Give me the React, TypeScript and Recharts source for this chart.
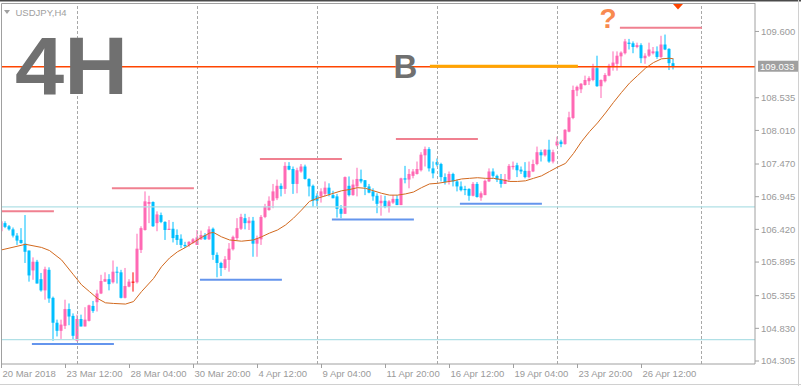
import React from 'react';
import { ComposedChart, Bar, Line, XAxis, YAxis, ReferenceLine } from 'recharts';

const opens = [
  106.39, 106.52, 106.47, 106.42, 106.32, 106.25, 106.19, 106.08, 105.76, 105.90,
  105.62, 105.44, 105.77, 105.32, 104.92, 104.79, 104.87, 105.14, 105.03, 104.63,
  104.98, 104.86, 104.95, 105.19, 105.25, 105.39, 105.58, 105.62, 105.57, 105.74,
  105.73, 105.32, 105.50, 105.58, 105.57, 106.09, 106.41, 106.83, 106.86, 106.52,
  106.65, 106.54, 106.41, 106.43, 106.33, 106.27, 106.17, 106.17, 106.20, 106.17,
  106.26, 106.33, 106.26, 106.43, 106.01, 105.88, 105.80, 105.93, 106.10, 106.28,
  106.43, 106.60, 106.52, 106.56, 106.19, 106.26, 106.62, 106.73, 106.88, 106.92,
  107.12, 107.07, 107.44, 107.39, 107.15, 107.35, 107.43, 107.23, 107.12, 106.96,
  106.95, 106.99, 107.09, 106.97, 106.95, 106.75, 106.67, 107.12, 106.97, 107.11,
  107.23, 107.21, 107.11, 107.03, 106.96, 106.84, 106.88, 106.78, 106.85, 106.91,
  106.81, 107.24, 107.22, 107.28, 107.31, 107.37, 107.61, 107.71, 107.40, 107.50,
  107.47, 107.26, 107.19, 107.31, 107.19, 107.11, 107.07, 107.07, 106.96, 107.15,
  106.93, 106.97, 107.19, 107.35, 107.28, 107.22, 107.15, 107.22, 107.42, 107.45,
  107.38, 107.36, 107.26, 107.35, 107.47, 107.66, 107.61, 107.70, 107.51, 107.77,
  107.83, 107.79, 107.99, 108.21, 108.65, 108.67, 108.74, 108.80, 108.82, 109.01,
  108.72, 108.80, 108.89, 109.04, 109.08, 109.20, 109.25, 109.42, 109.41, 109.35,
  109.38, 109.17, 109.21, 109.25, 109.28, 109.19, 109.39, 109.32, 109.09,
];
const highs = [
  106.57, 106.55, 106.49, 106.45, 106.36, 106.44, 106.65, 106.08, 105.97, 105.93,
  105.72, 105.82, 105.81, 105.34, 104.97, 104.97, 105.29, 105.23, 105.07, 105.05,
  105.05, 105.17, 105.21, 105.27, 105.45, 105.69, 105.73, 105.70, 105.92, 105.82,
  105.77, 105.80, 105.62, 105.73, 106.35, 106.47, 107.03, 106.96, 106.87, 106.71,
  106.69, 106.55, 106.57, 106.54, 106.42, 106.34, 106.22, 106.23, 106.28, 106.41,
  106.40, 106.36, 106.47, 106.45, 106.05, 105.90, 105.99, 106.20, 106.32, 106.60,
  106.67, 106.67, 106.62, 106.62, 106.32, 106.65, 106.83, 106.95, 107.15, 107.22,
  107.16, 107.50, 107.50, 107.43, 107.41, 107.47, 107.46, 107.24, 107.14, 107.00,
  107.08, 107.19, 107.16, 107.04, 106.99, 106.81, 107.27, 107.27, 107.22, 107.41,
  107.38, 107.21, 107.15, 107.08, 107.00, 106.97, 106.96, 106.89, 106.97, 106.97,
  107.25, 107.44, 107.39, 107.39, 107.51, 107.66, 107.75, 107.74, 107.51, 107.56,
  107.49, 107.32, 107.35, 107.33, 107.22, 107.19, 107.12, 107.08, 107.18, 107.18,
  107.03, 107.22, 107.40, 107.40, 107.30, 107.31, 107.31, 107.47, 107.51, 107.49,
  107.43, 107.50, 107.51, 107.54, 107.75, 107.70, 107.71, 107.86, 107.70, 107.91,
  107.86, 108.03, 108.31, 108.73, 108.73, 108.77, 108.89, 108.88, 109.08, 109.21,
  108.83, 108.93, 109.08, 109.28, 109.28, 109.28, 109.48, 109.48, 109.44, 109.42,
  109.41, 109.25, 109.42, 109.35, 109.36, 109.53, 109.55, 109.33, 109.16,
];
const lows = [
  106.37, 106.44, 106.40, 106.29, 106.17, 106.19, 105.88, 105.58, 105.61, 105.55,
  105.42, 105.29, 105.24, 104.63, 104.70, 104.66, 104.82, 104.88, 104.65, 104.62,
  104.86, 104.86, 104.94, 105.08, 105.10, 105.38, 105.58, 105.44, 105.55, 105.55,
  105.31, 105.31, 105.49, 105.42, 105.55, 106.04, 106.40, 106.52, 106.46, 106.39,
  106.52, 106.25, 106.41, 106.21, 106.17, 106.12, 106.12, 106.14, 106.19, 106.17,
  106.25, 106.25, 106.25, 105.93, 105.65, 105.67, 105.77, 105.74, 106.08, 106.25,
  106.41, 106.42, 106.41, 105.98, 105.98, 106.17, 106.60, 106.72, 106.76, 106.89,
  106.95, 106.99, 107.37, 106.99, 107.00, 107.33, 107.22, 106.95, 106.78, 106.79,
  106.85, 106.95, 106.95, 106.92, 106.61, 106.60, 106.67, 106.95, 106.96, 106.95,
  107.16, 106.97, 107.00, 106.88, 106.68, 106.64, 106.76, 106.69, 106.83, 106.81,
  106.81, 107.16, 107.08, 107.24, 107.30, 107.35, 107.43, 107.35, 107.24, 107.43,
  107.19, 107.14, 107.14, 107.11, 107.03, 107.03, 106.97, 106.88, 106.95, 106.93,
  106.88, 106.97, 107.18, 107.25, 107.18, 107.09, 107.15, 107.19, 107.38, 107.26,
  107.31, 107.24, 107.24, 107.34, 107.45, 107.51, 107.59, 107.49, 107.48, 107.75,
  107.74, 107.78, 107.98, 108.19, 108.56, 108.61, 108.73, 108.74, 108.80, 108.71,
  108.53, 108.78, 108.88, 108.97, 108.97, 109.04, 109.23, 109.31, 109.25, 109.33,
  109.09, 109.08, 109.19, 109.23, 109.16, 109.17, 109.30, 108.98, 108.99,
];
const closes = [
  106.55, 106.46, 106.42, 106.32, 106.24, 106.20, 106.06, 105.68, 105.90, 105.55,
  105.44, 105.78, 105.31, 104.92, 104.79, 104.89, 105.14, 105.02, 104.71, 104.98,
  104.86, 104.97, 105.20, 105.11, 105.39, 105.59, 105.62, 105.54, 105.74, 105.73,
  105.32, 105.51, 105.58, 105.58, 106.11, 106.44, 106.87, 106.86, 106.47, 106.66,
  106.54, 106.41, 106.43, 106.28, 106.25, 106.17, 106.15, 106.22, 106.26, 106.29,
  106.33, 106.26, 106.42, 106.01, 105.88, 105.80, 105.94, 106.11, 106.30, 106.44,
  106.62, 106.52, 106.56, 106.19, 106.28, 106.62, 106.79, 106.88, 107.03, 107.12,
  107.07, 107.44, 107.38, 107.15, 107.37, 107.43, 107.23, 107.11, 106.88, 106.88,
  107.03, 107.09, 106.99, 106.92, 106.75, 106.67, 107.26, 106.97, 107.14, 107.23,
  107.19, 107.10, 107.01, 106.95, 106.83, 106.88, 106.78, 106.87, 106.91, 106.81,
  107.24, 107.22, 107.31, 107.35, 107.39, 107.62, 107.71, 107.40, 107.32, 107.46,
  107.26, 107.18, 107.31, 107.19, 107.11, 107.05, 107.05, 106.96, 107.15, 106.94,
  107.00, 107.20, 107.35, 107.28, 107.22, 107.15, 107.22, 107.44, 107.44, 107.37,
  107.35, 107.26, 107.36, 107.47, 107.66, 107.61, 107.70, 107.51, 107.66, 107.83,
  107.79, 108.02, 108.22, 108.66, 108.71, 108.76, 108.82, 108.85, 109.01, 108.72,
  108.82, 108.90, 109.05, 109.10, 109.21, 109.26, 109.44, 109.40, 109.35, 109.38,
  109.17, 109.21, 109.31, 109.28, 109.19, 109.39, 109.31, 109.09, 109.033,
];

const maIndex = [
  0, 6, 10, 12, 15, 18, 20, 22, 24, 26, 28, 31, 33, 35, 38, 40, 42, 44, 46, 48,
  50, 52, 53, 55, 57, 60, 63, 65, 67, 69, 71, 73, 75, 77, 79, 81, 83, 85, 87, 89,
  91, 93, 95, 97, 99, 101, 103, 105, 107, 109, 111, 113, 115, 117, 119, 121, 123, 125, 127, 129,
  131, 133, 135, 137, 139, 141, 143, 145, 147, 149, 151, 153, 155, 157, 159, 161, 163, 165, 167, 168,
];
const maValues = [
  106.09, 106.18, 106.13, 106.08, 105.93, 105.69, 105.53, 105.42, 105.31, 105.24, 105.23, 105.22, 105.26, 105.42, 105.63, 105.82, 105.96, 106.06, 106.13, 106.21,
  106.29, 106.36, 106.37, 106.30, 106.25, 106.23, 106.25, 106.30, 106.36, 106.41, 106.49, 106.60, 106.73, 106.87, 106.92, 106.96, 107.00, 107.04, 107.06, 107.09,
  107.08, 107.04, 107.00, 106.97, 106.97, 106.99, 107.02, 107.09, 107.15, 107.16, 107.18, 107.20, 107.23, 107.24, 107.25, 107.24, 107.24, 107.22, 107.19, 107.19,
  107.20, 107.24, 107.28, 107.35, 107.42, 107.48, 107.64, 107.83, 107.99, 108.13, 108.29, 108.46, 108.62, 108.77, 108.89, 109.01, 109.10, 109.16, 109.17, 109.16,
];

const xTickIndex = [0, 16, 32, 48, 64, 80, 96, 112, 128, 144, 160];
const xTickLabels = [
  '20 Mar 2018', '23 Mar 12:00', '28 Mar 04:00', '30 Mar 20:00', '4 Apr 12:00', '9 Apr 04:00',
  '11 Apr 20:00', '16 Apr 12:00', '19 Apr 04:00', '23 Apr 20:00', '26 Apr 12:00',
];
const yTicks = [104.305, 104.83, 105.355, 105.895, 106.42, 106.945, 107.47, 108.01, 108.535, 109.6];
const weekGridIndex = [19, 49, 79, 109, 139, 175];

const resistanceFrom = [-0.1, 27.6, 64.6, 98.6, 154.6];
const resistanceTo = [13.1, 48.1, 85.1, 119.1, 175.1];
const resistancePrice = [106.71, 107.08, 107.55, 107.87, 109.66];

const supportFrom = [7.6, 49.6, 82.6, 114.6];
const supportTo = [28.1, 70.1, 103.1, 135.1];
const supportPrice = [104.58, 105.61, 106.58, 106.83];

const bLineFrom = 107.1;
const bLineTo = 144.1;
const bLinePrice = 109.04;

const levelLines = [106.78, 104.65];
const lastPrice = 109.033;

const data = opens.map((o, i) => ({
  i,
  open: o,
  high: highs[i],
  low: lows[i],
  close: closes[i],
  range: [lows[i], highs[i]],
  ma: undefined as number | undefined,
}));
maIndex.forEach((idx, k) => {
  data[idx].ma = maValues[k];
});

const BULL = '#ff69b4';
const BEAR = '#00bfff';
const DOJI = '#ff0000';
const AXIS = '#a0a0a0';
const TEXT = '#9a9a9a';
const FONT = '"Liberation Sans", Arial, sans-serif';

const Candle = (props: any) => {
  const { x, y, width, height } = props;
  const p = props.payload ?? props;
  const { open, close, high, low } = p;
  const top = Math.min(y, y + height);
  const h = Math.abs(height);
  const cx = x + width / 2;
  const ppu = high - low > 0 ? h / (high - low) : 0;
  const yO = top + (high - open) * ppu;
  const yC = top + (high - close) * ppu;
  const color = close > open ? BULL : close < open ? BEAR : DOJI;
  const bTop = Math.min(yO, yC);
  const bH = Math.max(1, Math.abs(yO - yC));
  return (
    <g>
      <line x1={cx} x2={cx} y1={top} y2={top + h} stroke={color} strokeWidth={1} />
      <rect x={cx - 1.5} y={bTop} width={3} height={bH} fill={color} />
    </g>
  );
};

const XTick = (props: any) => {
  const { x, payload } = props;
  const k = xTickIndex.indexOf(payload.value);
  return (
    <text x={x + 1} y={377} fill={TEXT} fontSize={9.5} fontFamily={FONT}>
      {k >= 0 ? xTickLabels[k] : ''}
    </text>
  );
};

const PriceLabel = (props: any) => {
  const vb = props.viewBox || {};
  const yy = vb.y ?? 0;
  const xx = (vb.x ?? 0) + (vb.width ?? 0) + 3;
  return (
    <g>
      <rect x={xx} y={yy - 6} width={40} height={11} fill="#a0a0a0" />
      <text x={xx + 2} y={yy + 3.5} fill="#ffffff" fontSize={9.5} fontFamily={FONT}>
        {lastPrice.toFixed(3)}
      </text>
    </g>
  );
};

export default function App() {
  return (
    <div style={{ position: 'absolute', left: 0, top: 0, width: 801, height: 386, background: '#ffffff', overflow: 'hidden' }}>
      <ComposedChart
        width={801}
        height={386}
        data={data}
        margin={{ top: 3, right: 0, left: 1, bottom: 0 }}
      >
        <XAxis
          dataKey="i"
          type="number"
          domain={[-0.125, 188.375]}
          allowDataOverflow
          ticks={xTickIndex}
          interval={0}
          tick={<XTick />}
          tickSize={4}
          tickLine={{ stroke: AXIS }}
          axisLine={{ stroke: AXIS }}
          height={22}
        />
        <YAxis
          orientation="right"
          type="number"
          domain={[104.257, 110.057]}
          allowDataOverflow
          ticks={yTicks}
          interval={0}
          tickFormatter={(v: number) => v.toFixed(3)}
          tick={{ fill: TEXT, fontSize: 9.5, fontFamily: FONT }}
          tickSize={4}
          tickLine={{ stroke: AXIS }}
          axisLine={{ stroke: AXIS }}
          width={46}
        />
        {weekGridIndex.map((g) => (
          <ReferenceLine key={'g' + g} x={g} stroke="#a8a8a8" strokeDasharray="3 2" ifOverflow="visible" />
        ))}
        {levelLines.map((lv) => (
          <ReferenceLine key={'l' + lv} y={lv} stroke="#b0e0e6" strokeWidth={1.2} />
        ))}
        <ReferenceLine y={lastPrice} stroke="#ff4500" strokeWidth={1.3} label={<PriceLabel />} />
        {resistancePrice.map((pr, k) => (
          <ReferenceLine
            key={'r' + k}
            segment={[{ x: resistanceFrom[k], y: pr }, { x: resistanceTo[k], y: pr }]}
            stroke="#f08090"
            strokeWidth={2}
            ifOverflow="visible"
          />
        ))}
        {supportPrice.map((pr, k) => (
          <ReferenceLine
            key={'s' + k}
            segment={[{ x: supportFrom[k], y: pr }, { x: supportTo[k], y: pr }]}
            stroke="#6495ed"
            strokeWidth={2}
            ifOverflow="visible"
          />
        ))}
        <ReferenceLine
          segment={[{ x: bLineFrom, y: bLinePrice }, { x: bLineTo, y: bLinePrice }]}
          stroke="#ffa500"
          strokeWidth={3}
          ifOverflow="visible"
        />
        <Bar dataKey="range" shape={<Candle />} barSize={3} isAnimationActive={false} />
        <Line
          dataKey="ma"
          stroke="#d2691e"
          strokeWidth={1}
          dot={false}
          connectNulls
          isAnimationActive={false}
          type="linear"
        />
      </ComposedChart>
      <svg
        width={801}
        height={386}
        style={{ position: 'absolute', left: 0, top: 0, pointerEvents: 'none' }}
      >
        <rect x={0} y={0} width={801} height={1.5} fill="#4a4a4a" />
        <line x1={1.5} y1={3.5} x2={755} y2={3.5} stroke={AXIS} strokeWidth={1} />
        <line x1={1.5} y1={3.5} x2={1.5} y2={364} stroke={AXIS} strokeWidth={1} />
        <line x1={798.5} y1={0} x2={798.5} y2={386} stroke="#d0d0d0" strokeWidth={1} />
        <line x1={0} y1={384.5} x2={801} y2={384.5} stroke="#d0d0d0" strokeWidth={1} />
        <polygon points="4,10 10,10 7,14" fill="#a0a0a0" />
        <text x={15.5} y={15.5} fill="#a0a0a0" fontSize={9.5} fontFamily={FONT}>USDJPY,H4</text>
        <text x={15} y={94} fill="#707070" fontSize={82} fontWeight="bold" fontFamily={FONT} textLength={113} lengthAdjust="spacingAndGlyphs">4H</text>
        <text x={393.5} y={77.7} fill="#707070" fontSize={33} fontWeight="bold" fontFamily={FONT}>B</text>
        <text x={599.5} y={28} fill="#f88a4f" fontSize={28} fontWeight="bold" fontFamily={FONT}>?</text>
        <polygon points="673,4 683,4 678,9.5" fill="#ff4500" />
      </svg>
    </div>
  );
}
